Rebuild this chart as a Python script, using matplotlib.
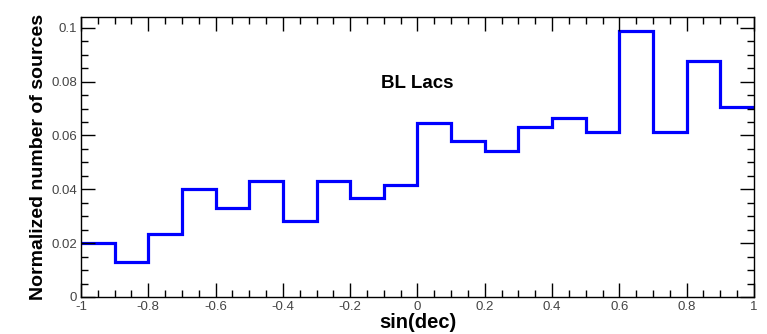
import numpy as np
import matplotlib.pyplot as plt
from matplotlib.ticker import MultipleLocator

plt.rcParams['font.family'] = ['Liberation Sans', 'DejaVu Sans']

# sin(dec) histogram, 20 bins from -1 to 1
bin_edges = np.linspace(-1, 1, 21)
frac = [0.0200, 0.0131, 0.0233, 0.0400, 0.0330, 0.0432, 0.0284, 0.0432, 0.0367, 0.0416,
        0.0646, 0.0581, 0.0544, 0.0631, 0.0664, 0.0613, 0.0989, 0.0613, 0.0876, 0.0707]
xticks = [-1, -0.8, -0.6, -0.4, -0.2, 0, 0.2, 0.4, 0.6, 0.8, 1]
yticks = [0, 0.02, 0.04, 0.06, 0.08, 0.1]

fig = plt.figure(figsize=(7.67, 3.34), dpi=100)
ax = fig.add_axes([0.1056, 0.1108, 0.8774, 0.8383])

ax.stairs(frac, bin_edges, color='#0000ff', linewidth=2.3, baseline=None)

ax.set_xlim(-1, 1)
ax.set_ylim(0, 0.104)
ax.set_xticks(xticks)
ax.set_xticklabels([f"{v:g}" for v in xticks])
ax.set_yticks(yticks)
ax.set_yticklabels([f"{v:g}" for v in yticks])
ax.xaxis.set_minor_locator(MultipleLocator(0.05))
ax.yaxis.set_minor_locator(MultipleLocator(0.005))

ax.tick_params(which='both', direction='in', top=True, right=True, width=1,
               labelsize=9.5, labelcolor='#444444')
ax.tick_params(which='major', length=10, pad=3)
ax.tick_params(which='minor', length=5)
for s in ax.spines.values():
    s.set_linewidth(1)

ax.set_xlabel('sin(dec)', fontsize=14.5, fontweight='bold', labelpad=0)
ax.set_ylabel('Normalized number of sources', fontsize=14, fontweight='bold', labelpad=3)
ax.text(0.0, 0.0792, 'BL Lacs', fontsize=13.5, fontweight='bold', ha='center', va='center')

fig.savefig('out.png', dpi=100)
